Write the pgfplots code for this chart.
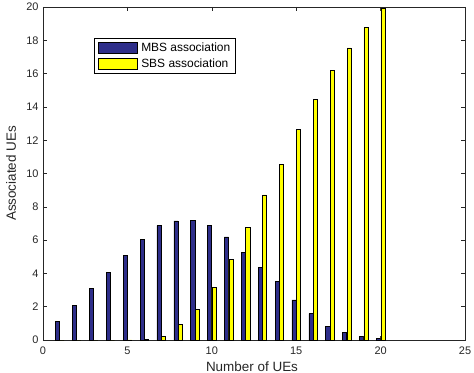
\documentclass[border=0pt]{standalone}
\usepackage{fontspec}
\setmainfont{Liberation Sans}
\usepackage{pgfplots}
\pgfplotsset{compat=1.18}
\usetikzlibrary{calc}
\definecolor{mbs}{RGB}{46,46,138}
\definecolor{sbs}{RGB}{255,255,0}
\definecolor{axgray}{RGB}{38,38,38}

\pgfplotstableread{
x mbs sbs
1 1.10 0.00
2 2.10 0.00
3 3.08 0.00
4 4.08 0.00
5 5.07 0.01
6 6.04 0.05
7 6.87 0.20
8 7.15 0.93
9 7.20 1.86
10 6.89 3.14
11 6.20 4.84
12 5.26 6.77
13 4.34 8.71
14 3.51 10.53
15 2.41 12.63
16 1.59 14.43
17 0.81 16.20
18 0.46 17.54
19 0.23 18.76
20 0.10 19.90
}\datatable

\begin{document}
\begin{tikzpicture}
\begin{axis}[
  name=ax,
  scale only axis,
  width=422bp, height=333bp,
  xmin=0, xmax=25, ymin=0, ymax=20,
  xtick={0,5,...,25},
  ytick={0,2,...,20},
  tick align=inside,
  xtick pos=both, ytick pos=both,
  major tick length=4bp,
  axis line style={axgray, line width=0.5pt},
  tick style={axgray, line width=0.5pt},
  ticklabel style={font=\fontsize{11}{12}\selectfont, text=axgray},
  xticklabel style={yshift=-3bp},
  yticklabel style={xshift=-1bp},
  /pgf/number format/assume math mode=true,
  label style={font=\fontsize{13.5}{15}\selectfont, text=axgray},
  xlabel={Number of UEs},
  ylabel={Associated UEs},
  xlabel style={at={(axis description cs:0.5,0)}, anchor=base, yshift=-31bp, xshift=-2bp},
  ylabel style={at={(axis description cs:0,0.5)}, anchor=base, yshift=27bp},
  legend style={at={(0.122,0.906)}, anchor=north west, draw=black, line width=0.5pt,
    font=\fontsize{12}{13}\selectfont, inner xsep=3bp, inner ysep=2bp,
    row sep=2bp, cells={anchor=west}},
  legend image code/.code={\draw[#1, line width=0.6pt] (0bp,-5.8bp) rectangle (39bp,5.8bp); \path (41bp,0bp);},
]
\addplot[ybar, bar width=0.24, bar shift=-0.13, fill=mbs, draw=black, line width=0.5pt] table[x=x, y=mbs] {\datatable};
\addlegendentry{MBS association}
\addplot[ybar, bar width=0.24, bar shift=0.13, fill=sbs, draw=black, line width=0.5pt] table[x=x, y=sbs] {\datatable};
\addlegendentry{SBS association}
\end{axis}
\pgfresetboundingbox
\useasboundingbox ($(ax.south west)+(-43bp,-33bp)$) rectangle ($(ax.north east)+(9bp,7bp)$);
\end{tikzpicture}
\end{document}
